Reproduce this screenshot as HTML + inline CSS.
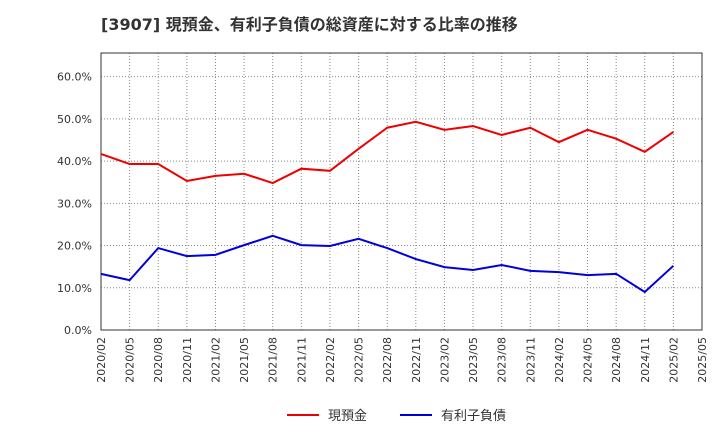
<!DOCTYPE html>
<html><head><meta charset="utf-8"><style>
body{margin:0;background:#fff;font-family:"DejaVu Sans","Noto Sans CJK JP",sans-serif}
</style></head><body>
<svg id="c" width="720" height="440" xmlns="http://www.w3.org/2000/svg" style="font-family:'DejaVu Sans','Noto Sans CJK JP',sans-serif">
<text x="101" y="30" font-size="16" font-weight="bold" fill="#333">[3907]  現預金、有利子負債の総資産に対する比率の推移</text>
<g id="grid"></g><g id="axes"></g><g id="series"></g>
<g>
<line x1="287" y1="415" x2="319" y2="415" stroke="#e00" stroke-width="2"/>
<text x="328" y="420" font-size="13" fill="#333">現預金</text>
<line x1="400" y1="415" x2="432" y2="415" stroke="#00d" stroke-width="2"/>
<text x="441" y="420" font-size="13" fill="#333">有利子負債</text>
</g>
</svg>
<script>
const categories=["2020/02","2020/05","2020/08","2020/11","2021/02","2021/05","2021/08","2021/11","2022/02","2022/05","2022/08","2022/11","2023/02","2023/05","2023/08","2023/11","2024/02","2024/05","2024/08","2024/11","2025/02","2025/05"];
const cashValues=[41.7,39.3,39.3,35.3,36.5,37.0,34.8,38.2,37.7,42.9,47.9,49.3,47.4,48.3,46.2,47.9,44.5,47.4,45.3,42.2,46.9];
const debtValues=[13.3,11.8,19.4,17.5,17.8,20.1,22.3,20.1,19.9,21.6,19.4,16.8,14.9,14.2,15.4,14.0,13.7,13.0,13.3,9.0,15.2];
const yTicks=[0,10,20,30,40,50,60];
const NS="http://www.w3.org/2000/svg";
const L=101,R=702,T=53,B=330,yMax=65.6;
const xs=i=>L+(R-L)*i/(categories.length-1);
const ys=v=>B-(B-T)*v/yMax;
function mk(tag,attrs,parent){const e=document.createElementNS(NS,tag);for(const k in attrs)e.setAttribute(k,attrs[k]);document.getElementById(parent).appendChild(e);return e;}
categories.forEach((c,i)=>{
 const g=mk("line",{x1:xs(i),x2:xs(i),y1:T,y2:B,stroke:"#888","stroke-dasharray":"1,2","stroke-width":1},"grid");
 
 
 const t=mk("text",{x:0,y:0,"font-size":11,fill:"#333","text-anchor":"end",transform:`translate(${xs(i)+4},${B+7}) rotate(-90)`},"axes");
 t.textContent=c;
 
 
});
yTicks.forEach(v=>{
 const g=mk("line",{x1:L,x2:R,y1:ys(v),y2:ys(v),stroke:"#888","stroke-dasharray":"1,2","stroke-width":1},"grid");
 
 
 const t=mk("text",{x:L-9,y:ys(v)+4,"font-size":11,fill:"#333","text-anchor":"end"},"axes");
 t.textContent=v.toFixed(1)+"%";
 
 
});
const fr=mk("rect",{x:L,y:T,width:R-L,height:B-T,fill:"none",stroke:"#333","stroke-width":1},"axes");


function line(vals,color,name){
 const p=mk("polyline",{points:vals.map((v,i)=>xs(i)+","+ys(v)).join(" "),fill:"none",stroke:color,"stroke-width":2},"series");
 
 
}
line(cashValues,"#e00","cash-line");
line(debtValues,"#00d","debt-line");
</script>
</body></html>
